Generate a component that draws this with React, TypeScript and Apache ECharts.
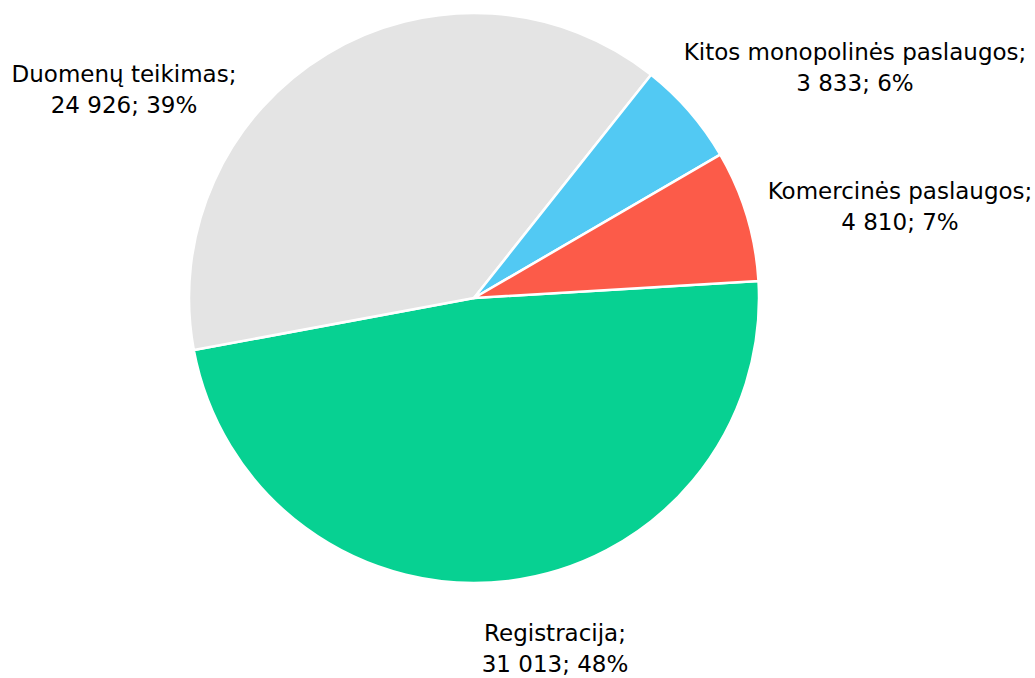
import React, { useEffect, useRef } from "react";
import * as echarts from "echarts";

const categories = ["Registracija", "Duomenų teikimas", "Kitos monopolinės paslaugos", "Komercinės paslaugos"];
const values = [31013, 24926, 3833, 4810];
const percents = ["48%", "39%", "6%", "7%"];
const valueLabels = ["31 013", "24 926", "3 833", "4 810"];
const colors = ["#07D192", "#E4E4E4", "#52C9F3", "#FC5B49"];
const labelCenters = [
  [555, 648],
  [124, 89],
  [855, 67],
  [900, 206],
];

export default function App() {
  const ref = useRef<HTMLDivElement>(null);
  useEffect(() => {
    document.body.style.margin = "0";
    const chart = echarts.init(ref.current!, null, { renderer: "svg" });
    chart.setOption({
      animation: false,
      backgroundColor: "#ffffff",
      series: [
        {
          type: "pie",
          center: [474, 298],
          radius: 285,
          startAngle: 3.4,
          clockwise: true,
          selectedMode: false,
          itemStyle: { borderColor: "#ffffff", borderWidth: 2.5 },
          label: {
            show: true,
            position: "outside",
            fontFamily: "DejaVu Sans",
            fontSize: 23,
            color: "#000000",
            lineHeight: 31,
            align: "center",
            overflow: "none",
            formatter: (p: any) =>
              categories[p.dataIndex] + ";\n" + valueLabels[p.dataIndex] + "; " + percents[p.dataIndex],
          },
          labelLine: { show: false },
          labelLayout: (p: any) => {
            const c = labelCenters[p.dataIndex];
            return {
              x: c[0],
              y: c[1],
              align: "center",
              verticalAlign: "middle",
            };
          },
          data: categories.map((name, i) => ({
            name,
            value: values[i],
            itemStyle: { color: colors[i] },
          })),
        },
      ],
    });
    return () => chart.dispose();
  }, []);
  return <div ref={ref} style={{ width: 1035, height: 678 }} />;
}
